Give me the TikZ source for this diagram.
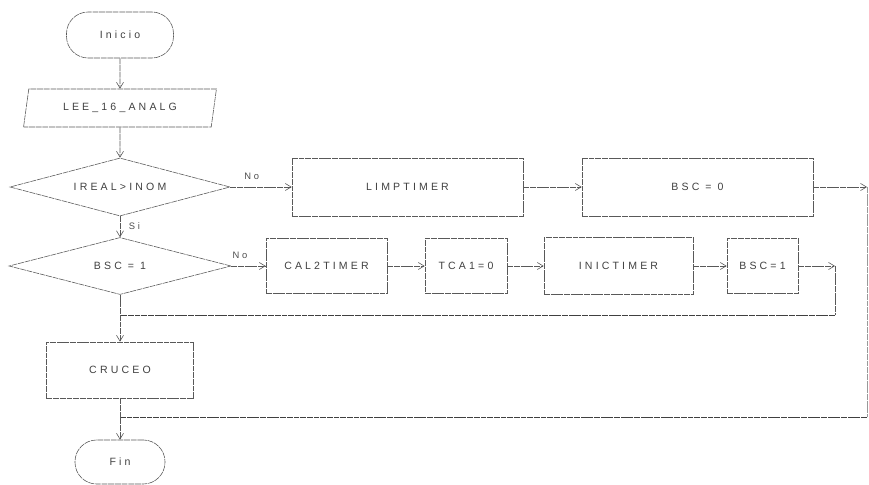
\documentclass[tikz,border=0pt]{standalone}
\usepackage{fontspec}
\setsansfont[LetterSpace=30]{Liberation Sans}
\usetikzlibrary{shapes.geometric, arrows.meta}

\begin{document}
\begin{tikzpicture}[x=0.03cm, y=-0.03cm,
	line/.style={draw=black!65, line width=0.5pt, dash pattern={on 5pt off 0.7pt}},
	flow/.style={line, -{Straight Barb[length=5pt, width=6pt]}},
	back/.style={line, draw=black!75, line width=0.8pt},
	proc/.style={line, shape=rectangle, inner sep=0pt, text=black!75, font=\sffamily\small},
	term/.style={proc, rounded corners=0.65cm},
	dec/.style={proc, shape=diamond, aspect=3.8},
	io/.style={proc, shape=trapezium, trapezium left angle=71, trapezium right angle=109, trapezium stretches=true},
	lbl/.style={text=black!70, font=\sffamily\footnotesize}]
	\useasboundingbox (0, 0) rectangle (869, 485);
	% Nodes, first column:
	\node[term, minimum width=3.21cm, minimum height=1.38cm] (ini) at (120, 35) {Inicio};
	\node[io, minimum width=5.79cm, minimum height=1.14cm] (lee) at (120, 108) {LEE\_16\_ANALG};
	\node[dec, minimum width=6.6cm, minimum height=1.74cm] (cmp) at (120, 187) {IREAL>INOM};
	\node[dec, minimum width=6.66cm, minimum height=1.71cm] (bsc) at (120, 266) {BSC = 1};
	\node[proc, minimum width=4.41cm, minimum height=1.68cm] (cru) at (120, 370) {CRUCEO};
	\node[term, minimum width=2.7cm, minimum height=1.32cm] (fin) at (120, 462) {Fin};
	% Nodes, first row:
	\node[proc, minimum width=6.93cm, minimum height=1.74cm] (limp) at (407.5, 187) {LIMPTIMER};
	\node[proc, minimum width=6.93cm, minimum height=1.74cm] (bsccero) at (697.5, 187) {BSC = 0};
	% Nodes, second row:
	\node[proc, minimum width=3.63cm, minimum height=1.65cm] (cal) at (326.5, 266) {CAL2TIMER};
	\node[proc, minimum width=2.46cm, minimum height=1.65cm] (tca) at (466, 266) {TCA1=0};
	\node[proc, minimum width=4.47cm, minimum height=1.71cm] (inic) at (618.5, 266) {INICTIMER};
	\node[proc, minimum width=2.13cm, minimum height=1.65cm] (bscuno) at (762.5, 266) {BSC=1};
	% Junctions:
	\coordinate (r1) at (867, 187);
	\coordinate (r2) at (835, 266);
	\coordinate (j1) at (120, 315);
	\coordinate (j2) at (120, 417);
	% Wires:
	\draw[flow] (ini) -- (lee);
	\draw[flow] (lee) -- (cmp);
	\draw[flow] (cmp) -- node[lbl, pos=0.35, above=3pt] {No} (limp);
	\draw[flow] (limp) -- (bsccero);
	\draw[flow] (bsccero) -- (r1);
	\draw[line, draw=black!40] (r1) -- (r1 |- j2);
	\draw[back] (r1 |- j2) -- (j2);
	\draw[flow] (cmp) -- node[lbl, pos=0.45, right=4pt] {Si} (bsc);
	\draw[flow] (bsc) -- node[lbl, pos=0.25, above=3pt] {No} (cal);
	\draw[flow] (cal) -- (tca);
	\draw[flow] (tca) -- (inic);
	\draw[flow] (inic) -- (bscuno);
	\draw[flow] (bscuno) -- (r2);
	\draw[line] (r2) -- (r2 |- j1);
	\draw[back] (r2 |- j1) -- (j1);
	\draw[flow] (bsc) -- (cru);
	\draw[flow] (cru) -- (fin);
\end{tikzpicture}
\end{document}
